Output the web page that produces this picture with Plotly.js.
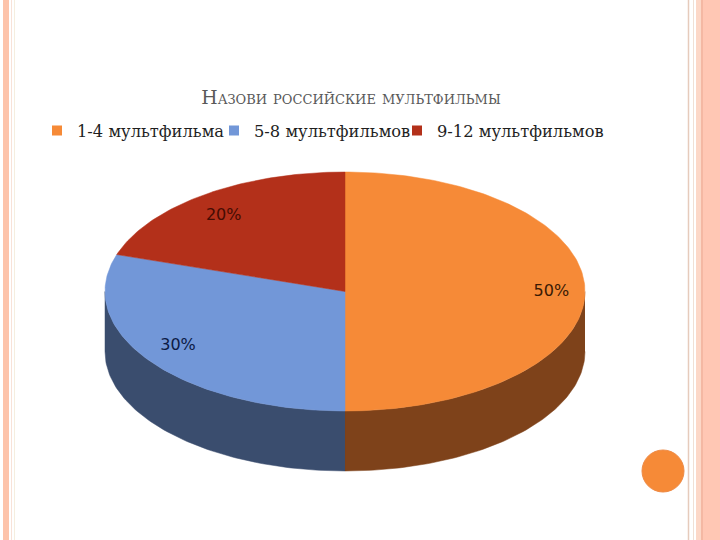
<!DOCTYPE html>
<html><head><meta charset="utf-8">
<script src="https://cdn.plot.ly/plotly-3.0.1.min.js"></script>
<style>html,body{margin:0;padding:0;background:#fff}#chart{width:720px;height:540px}</style>
</head><body><div id="chart"></div>
<script>
// ---- data ----
const categories = ["1-4 мультфильма", "5-8 мультфильмов", "9-12 мультфильмов"];
const values = [50, 30, 20];
const titleText = "Назови российские мультфильмы";

// ---- styles ----
const topColors = ["#F68A37", "#7297D8", "#B3301A"];
const sideColors = ["#7E421A", "#3A4D6E", "#5E1A0E"];
const labelColors = ["#3A1A04", "#0C1A45", "#450C03"];
const legendTextStarts = [77, 254, 437];

// ---- 3D pie geometry (pixel-like axis units) ----
const cx = 345, cy = 291.5, rx = 240, ry = 119.5, depth = 60;
const kx = 0.86, ky = 0.78;
function pt(theta, dy) {
  const r = theta * Math.PI / 180;
  return [cx + rx * Math.sin(r), cy - ry * Math.cos(r) + (dy || 0)];
}
function arc(a, b, dy) {
  const n = Math.max(2, Math.ceil(Math.abs(b - a)));
  const xs = [], ys = [];
  for (let i = 0; i <= n; i++) {
    const p = pt(a + (b - a) * i / n, dy);
    xs.push(p[0]); ys.push(p[1]);
  }
  return [xs, ys];
}
const total = values.reduce((s, v) => s + v, 0);
let acc = 0;
const slices = values.map(v => { const a = acc; acc += v / total * 360; return {a: a, b: acc}; });

const traces = [];
// side walls (front half only)
slices.forEach((s, i) => {
  const a = Math.max(s.a, 90), b = Math.min(s.b, 270);
  if (b <= a) return;
  const top = arc(a, b, 0), bot = arc(b, a, depth);
  traces.push({type: 'scatter', mode: 'lines', x: top[0].concat(bot[0]), y: top[1].concat(bot[1]),
    fill: 'toself', fillcolor: sideColors[i], line: {color: sideColors[i], width: 0.5},
    hoverinfo: 'skip', showlegend: false});
});
// top faces
slices.forEach((s, i) => {
  const ar = arc(s.a, s.b, 0);
  traces.push({type: 'scatter', mode: 'lines', x: [cx].concat(ar[0], [cx]), y: [cy].concat(ar[1], [cy]),
    fill: 'toself', fillcolor: topColors[i], line: {color: topColors[i], width: 0.5},
    hoverinfo: 'skip', showlegend: false});
});
// data labels
slices.forEach((s, i) => {
  const m = (s.a + s.b) / 2 * Math.PI / 180;
  traces.push({type: 'scatter', mode: 'text',
    x: [cx + rx * kx * Math.sin(m)], y: [cy - ry * ky * Math.cos(m)],
    text: [Math.round(values[i] / total * 100) + '%'],
    textfont: {family: 'DejaVu Sans', size: 16, color: labelColors[i]},
    textposition: 'middle center', hoverinfo: 'skip', showlegend: false});
});
// legend entries (one legend per entry to reproduce spacing)
const legendNames = ['legend', 'legend2', 'legend3'];
categories.forEach((c, i) => {
  traces.push({type: 'scatter', mode: 'markers', x: [null], y: [null], name: c,
    marker: {symbol: 'square', size: 10, color: topColors[i]}, showlegend: true, legend: legendNames[i]});
});

// slide decoration
const shapes = [
  {type: 'rect', xref: 'x', yref: 'paper', x0: 3, x1: 9, y0: 0, y1: 1, fillcolor: '#FDC3AA', line: {width: 0}, layer: 'below'},
  {type: 'line', xref: 'x', yref: 'paper', x0: 11.5, x1: 11.5, y0: 0, y1: 1, line: {color: '#F8E2D8', width: 1}, layer: 'below'},
  {type: 'line', xref: 'x', yref: 'paper', x0: 14.5, x1: 14.5, y0: 0, y1: 1, line: {color: '#F5EEDF', width: 1}, layer: 'below'},
  {type: 'line', xref: 'x', yref: 'paper', x0: 688.5, x1: 688.5, y0: 0, y1: 1, line: {color: '#E6CBBC', width: 1.5}, layer: 'below'},
  {type: 'line', xref: 'x', yref: 'paper', x0: 693.5, x1: 693.5, y0: 0, y1: 1, line: {color: '#F0E0D5', width: 1}, layer: 'below'},
  {type: 'rect', xref: 'x', yref: 'paper', x0: 696, x1: 701, y0: 0, y1: 1, fillcolor: '#FCD8C8', line: {width: 0}, layer: 'below'},
  {type: 'line', xref: 'x', yref: 'paper', x0: 702, x1: 702, y0: 0, y1: 1, line: {color: '#F0A084', width: 1.5}, layer: 'below'},
  {type: 'rect', xref: 'x', yref: 'paper', x0: 703, x1: 720, y0: 0, y1: 1, fillcolor: '#FFC7B4', line: {width: 0}, layer: 'below'},
  {type: 'circle', xref: 'x', yref: 'y', x0: 642, x1: 684, y0: 450, y1: 492, fillcolor: '#F68A37', line: {color: '#EE8A45', width: 1}}
];

function legendFor(i) {
  return {orientation: 'h', x: (legendTextStarts[i] - 40) / 720, xanchor: 'left', y: 1 - 131 / 540, yanchor: 'middle',
    font: {family: 'DejaVu Serif', size: 16.3, color: '#1F1F1F'}, bgcolor: 'rgba(0,0,0,0)', borderwidth: 0};
}

const layout = {
  width: 720, height: 540,
  margin: {l: 0, r: 0, t: 0, b: 0},
  paper_bgcolor: '#FFFFFF', plot_bgcolor: '#FFFFFF',
  xaxis: {range: [0, 720], visible: false, fixedrange: true},
  yaxis: {range: [540, 0], visible: false, fixedrange: true},
  title: {text: titleText, x: 351 / 720, xanchor: 'center', y: 1 - 97 / 540, yanchor: 'middle', yref: 'container',
    font: {family: 'DejaVu Serif', size: 18.8, color: '#595959', variant: 'small-caps'}},
  showlegend: true,
  legend: legendFor(0),
  legend2: legendFor(1),
  legend3: legendFor(2),
  shapes: shapes
};
Plotly.newPlot('chart', traces, layout, {displayModeBar: false, staticPlot: true});
</script>
</body></html>
